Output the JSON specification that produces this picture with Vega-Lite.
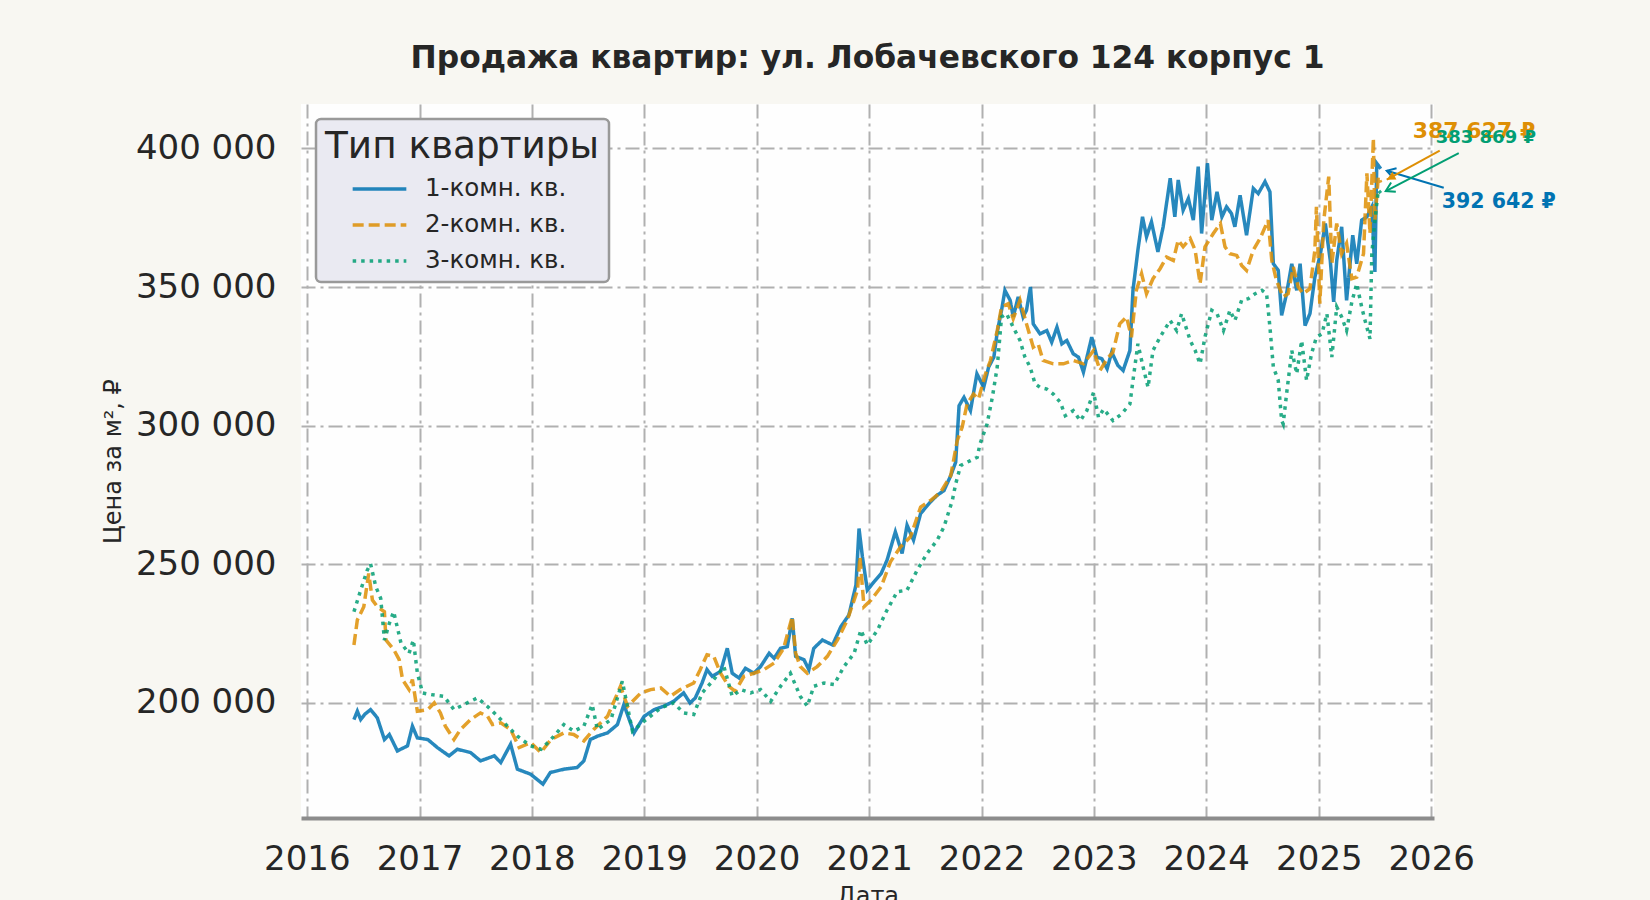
{
  "$schema": "https://vega.github.io/schema/vega-lite/v6.json",
  "width": 1133,
  "height": 714,
  "autosize": {"type": "none"},
  "padding": {"left": 301, "top": 104, "right": 216, "bottom": 82},
  "background": "#f8f7f2",
  "title": {
    "text": "Продажа квартир: ул. Лобачевского 124 корпус 1",
    "fontSize": 31.3,
    "fontWeight": "bold",
    "font": "DejaVu Sans",
    "color": "#262626",
    "anchor": "middle",
    "offset": 30
  },
  "datasets": {
    "main": [
      {"date": "2016-06-02", "type": "1-комн. кв.", "value": 194000},
      {"date": "2016-06-13", "type": "1-комн. кв.", "value": 197000},
      {"date": "2016-06-24", "type": "1-комн. кв.", "value": 194000},
      {"date": "2016-07-08", "type": "1-комн. кв.", "value": 196000},
      {"date": "2016-07-26", "type": "1-комн. кв.", "value": 197600},
      {"date": "2016-08-17", "type": "1-комн. кв.", "value": 194600},
      {"date": "2016-09-09", "type": "1-комн. кв.", "value": 186800},
      {"date": "2016-09-25", "type": "1-комн. кв.", "value": 188600},
      {"date": "2016-10-21", "type": "1-комн. кв.", "value": 182700},
      {"date": "2016-11-23", "type": "1-комн. кв.", "value": 184500},
      {"date": "2016-12-09", "type": "1-комн. кв.", "value": 191600},
      {"date": "2016-12-25", "type": "1-комн. кв.", "value": 187400},
      {"date": "2017-01-28", "type": "1-комн. кв.", "value": 186800},
      {"date": "2017-02-28", "type": "1-комн. кв.", "value": 183900},
      {"date": "2017-04-07", "type": "1-комн. кв.", "value": 180900},
      {"date": "2017-05-04", "type": "1-комн. кв.", "value": 183300},
      {"date": "2017-06-16", "type": "1-комн. кв.", "value": 182100},
      {"date": "2017-07-18", "type": "1-комн. кв.", "value": 179100},
      {"date": "2017-09-01", "type": "1-комн. кв.", "value": 180900},
      {"date": "2017-09-22", "type": "1-комн. кв.", "value": 178500},
      {"date": "2017-10-24", "type": "1-комн. кв.", "value": 185100},
      {"date": "2017-11-15", "type": "1-комн. кв.", "value": 176100},
      {"date": "2017-12-28", "type": "1-комн. кв.", "value": 174300},
      {"date": "2018-02-06", "type": "1-комн. кв.", "value": 170700},
      {"date": "2018-03-02", "type": "1-комн. кв.", "value": 174900},
      {"date": "2018-04-15", "type": "1-комн. кв.", "value": 176100},
      {"date": "2018-05-28", "type": "1-комн. кв.", "value": 176700},
      {"date": "2018-06-19", "type": "1-комн. кв.", "value": 179100},
      {"date": "2018-07-10", "type": "1-комн. кв.", "value": 186800},
      {"date": "2018-08-02", "type": "1-комн. кв.", "value": 188000},
      {"date": "2018-09-04", "type": "1-комн. кв.", "value": 189200},
      {"date": "2018-10-06", "type": "1-комн. кв.", "value": 192200},
      {"date": "2018-10-27", "type": "1-комн. кв.", "value": 199400},
      {"date": "2018-11-29", "type": "1-комн. кв.", "value": 189200},
      {"date": "2019-01-01", "type": "1-комн. кв.", "value": 195200},
      {"date": "2019-02-03", "type": "1-комн. кв.", "value": 197600},
      {"date": "2019-03-05", "type": "1-комн. кв.", "value": 198800},
      {"date": "2019-04-07", "type": "1-комн. кв.", "value": 200600},
      {"date": "2019-05-09", "type": "1-комн. кв.", "value": 203600},
      {"date": "2019-05-30", "type": "1-комн. кв.", "value": 200000},
      {"date": "2019-06-16", "type": "1-комн. кв.", "value": 201800},
      {"date": "2019-07-08", "type": "1-комн. кв.", "value": 207200},
      {"date": "2019-07-24", "type": "1-комн. кв.", "value": 212000},
      {"date": "2019-08-10", "type": "1-комн. кв.", "value": 209600},
      {"date": "2019-09-06", "type": "1-комн. кв.", "value": 211300},
      {"date": "2019-09-28", "type": "1-комн. кв.", "value": 219700},
      {"date": "2019-10-14", "type": "1-комн. кв.", "value": 210700},
      {"date": "2019-11-05", "type": "1-комн. кв.", "value": 209000},
      {"date": "2019-11-26", "type": "1-комн. кв.", "value": 212500},
      {"date": "2019-12-23", "type": "1-комн. кв.", "value": 210700},
      {"date": "2020-01-14", "type": "1-комн. кв.", "value": 213100},
      {"date": "2020-02-11", "type": "1-комн. кв.", "value": 217900},
      {"date": "2020-02-27", "type": "1-комн. кв.", "value": 216100},
      {"date": "2020-03-19", "type": "1-комн. кв.", "value": 219700},
      {"date": "2020-04-10", "type": "1-комн. кв.", "value": 220300},
      {"date": "2020-04-26", "type": "1-комн. кв.", "value": 230500},
      {"date": "2020-05-07", "type": "1-комн. кв.", "value": 216800},
      {"date": "2020-06-03", "type": "1-комн. кв.", "value": 215600},
      {"date": "2020-06-19", "type": "1-комн. кв.", "value": 212000},
      {"date": "2020-07-05", "type": "1-комн. кв.", "value": 219700},
      {"date": "2020-08-02", "type": "1-комн. кв.", "value": 222700},
      {"date": "2020-09-04", "type": "1-комн. кв.", "value": 220900},
      {"date": "2020-10-01", "type": "1-комн. кв.", "value": 227500},
      {"date": "2020-10-27", "type": "1-комн. кв.", "value": 231700},
      {"date": "2020-11-19", "type": "1-комн. кв.", "value": 242500},
      {"date": "2020-11-29", "type": "1-комн. кв.", "value": 262900},
      {"date": "2020-12-10", "type": "1-комн. кв.", "value": 252700},
      {"date": "2020-12-26", "type": "1-комн. кв.", "value": 240700},
      {"date": "2021-01-17", "type": "1-комн. кв.", "value": 243700},
      {"date": "2021-02-09", "type": "1-комн. кв.", "value": 246700},
      {"date": "2021-02-28", "type": "1-комн. кв.", "value": 251500},
      {"date": "2021-03-27", "type": "1-комн. кв.", "value": 261700},
      {"date": "2021-04-18", "type": "1-комн. кв.", "value": 253900},
      {"date": "2021-05-04", "type": "1-комн. кв.", "value": 264100},
      {"date": "2021-05-25", "type": "1-комн. кв.", "value": 258700},
      {"date": "2021-06-17", "type": "1-комн. кв.", "value": 268300},
      {"date": "2021-07-19", "type": "1-комн. кв.", "value": 272500},
      {"date": "2021-08-10", "type": "1-комн. кв.", "value": 274900},
      {"date": "2021-09-01", "type": "1-комн. кв.", "value": 276600},
      {"date": "2021-09-23", "type": "1-комн. кв.", "value": 282000},
      {"date": "2021-10-09", "type": "1-комн. кв.", "value": 286800},
      {"date": "2021-10-20", "type": "1-комн. кв.", "value": 307200},
      {"date": "2021-11-05", "type": "1-комн. кв.", "value": 310200},
      {"date": "2021-11-26", "type": "1-комн. кв.", "value": 305400},
      {"date": "2021-12-17", "type": "1-комн. кв.", "value": 318700},
      {"date": "2022-01-08", "type": "1-комн. кв.", "value": 313800},
      {"date": "2022-01-24", "type": "1-комн. кв.", "value": 321100},
      {"date": "2022-02-10", "type": "1-комн. кв.", "value": 324700},
      {"date": "2022-02-21", "type": "1-комн. кв.", "value": 333700},
      {"date": "2022-03-07", "type": "1-комн. кв.", "value": 341600},
      {"date": "2022-03-18", "type": "1-комн. кв.", "value": 348800},
      {"date": "2022-04-04", "type": "1-комн. кв.", "value": 345200},
      {"date": "2022-04-14", "type": "1-комн. кв.", "value": 339200},
      {"date": "2022-04-30", "type": "1-комн. кв.", "value": 346400},
      {"date": "2022-05-16", "type": "1-комн. кв.", "value": 339200},
      {"date": "2022-05-27", "type": "1-комн. кв.", "value": 341600},
      {"date": "2022-06-09", "type": "1-комн. кв.", "value": 350000},
      {"date": "2022-06-18", "type": "1-комн. кв.", "value": 336700},
      {"date": "2022-07-10", "type": "1-комн. кв.", "value": 333100},
      {"date": "2022-08-01", "type": "1-комн. кв.", "value": 334300},
      {"date": "2022-08-17", "type": "1-комн. кв.", "value": 330100},
      {"date": "2022-09-03", "type": "1-комн. кв.", "value": 335500},
      {"date": "2022-09-19", "type": "1-комн. кв.", "value": 329500},
      {"date": "2022-10-05", "type": "1-комн. кв.", "value": 330700},
      {"date": "2022-10-26", "type": "1-комн. кв.", "value": 325900},
      {"date": "2022-11-12", "type": "1-комн. кв.", "value": 324700},
      {"date": "2022-11-28", "type": "1-комн. кв.", "value": 319300},
      {"date": "2022-12-25", "type": "1-комн. кв.", "value": 331900},
      {"date": "2023-01-11", "type": "1-комн. кв.", "value": 324700},
      {"date": "2023-01-27", "type": "1-комн. кв.", "value": 324100},
      {"date": "2023-02-13", "type": "1-комн. кв.", "value": 320500},
      {"date": "2023-02-28", "type": "1-комн. кв.", "value": 326500},
      {"date": "2023-03-20", "type": "1-комн. кв.", "value": 321700},
      {"date": "2023-04-06", "type": "1-комн. кв.", "value": 319900},
      {"date": "2023-04-28", "type": "1-комн. кв.", "value": 327100},
      {"date": "2023-05-08", "type": "1-комн. кв.", "value": 348800},
      {"date": "2023-05-24", "type": "1-комн. кв.", "value": 363300},
      {"date": "2023-06-08", "type": "1-комн. кв.", "value": 375300},
      {"date": "2023-06-21", "type": "1-комн. кв.", "value": 368100},
      {"date": "2023-07-07", "type": "1-комн. кв.", "value": 373500},
      {"date": "2023-07-28", "type": "1-комн. кв.", "value": 362700},
      {"date": "2023-08-14", "type": "1-комн. кв.", "value": 371700},
      {"date": "2023-09-06", "type": "1-комн. кв.", "value": 389200},
      {"date": "2023-09-21", "type": "1-комн. кв.", "value": 375300},
      {"date": "2023-10-02", "type": "1-комн. кв.", "value": 388600},
      {"date": "2023-10-18", "type": "1-комн. кв.", "value": 377700},
      {"date": "2023-11-04", "type": "1-комн. кв.", "value": 381900},
      {"date": "2023-11-20", "type": "1-комн. кв.", "value": 374100},
      {"date": "2023-12-06", "type": "1-комн. кв.", "value": 393400},
      {"date": "2023-12-17", "type": "1-комн. кв.", "value": 369300},
      {"date": "2024-01-05", "type": "1-комн. кв.", "value": 394600},
      {"date": "2024-01-19", "type": "1-комн. кв.", "value": 374100},
      {"date": "2024-02-05", "type": "1-комн. кв.", "value": 384300},
      {"date": "2024-02-21", "type": "1-комн. кв.", "value": 375300},
      {"date": "2024-03-07", "type": "1-комн. кв.", "value": 378900},
      {"date": "2024-03-23", "type": "1-комн. кв.", "value": 376500},
      {"date": "2024-04-03", "type": "1-комн. кв.", "value": 371700},
      {"date": "2024-04-20", "type": "1-комн. кв.", "value": 383100},
      {"date": "2024-05-11", "type": "1-комн. кв.", "value": 368700},
      {"date": "2024-06-02", "type": "1-комн. кв.", "value": 385500},
      {"date": "2024-06-18", "type": "1-комн. кв.", "value": 383700},
      {"date": "2024-07-10", "type": "1-комн. кв.", "value": 388000},
      {"date": "2024-07-26", "type": "1-комн. кв.", "value": 384300},
      {"date": "2024-08-06", "type": "1-комн. кв.", "value": 358400},
      {"date": "2024-08-22", "type": "1-комн. кв.", "value": 356000},
      {"date": "2024-09-02", "type": "1-комн. кв.", "value": 339800},
      {"date": "2024-09-18", "type": "1-комн. кв.", "value": 347600},
      {"date": "2024-10-05", "type": "1-комн. кв.", "value": 358400},
      {"date": "2024-10-21", "type": "1-комн. кв.", "value": 348800},
      {"date": "2024-11-01", "type": "1-комн. кв.", "value": 358400},
      {"date": "2024-11-17", "type": "1-комн. кв.", "value": 336100},
      {"date": "2024-12-03", "type": "1-комн. кв.", "value": 340400},
      {"date": "2024-12-19", "type": "1-комн. кв.", "value": 353600},
      {"date": "2025-01-06", "type": "1-комн. кв.", "value": 362000},
      {"date": "2025-01-22", "type": "1-комн. кв.", "value": 372900},
      {"date": "2025-02-07", "type": "1-комн. кв.", "value": 359600},
      {"date": "2025-02-18", "type": "1-комн. кв.", "value": 344600},
      {"date": "2025-02-28", "type": "1-комн. кв.", "value": 359600},
      {"date": "2025-03-16", "type": "1-комн. кв.", "value": 371700},
      {"date": "2025-04-01", "type": "1-комн. кв.", "value": 345200},
      {"date": "2025-04-21", "type": "1-комн. кв.", "value": 368700},
      {"date": "2025-05-04", "type": "1-комн. кв.", "value": 358400},
      {"date": "2025-05-20", "type": "1-комн. кв.", "value": 374100},
      {"date": "2025-06-06", "type": "1-комн. кв.", "value": 375300},
      {"date": "2025-06-22", "type": "1-комн. кв.", "value": 378900},
      {"date": "2025-07-02", "type": "1-комн. кв.", "value": 355400},
      {"date": "2025-07-08", "type": "1-комн. кв.", "value": 394600},
      {"date": "2025-07-21", "type": "1-комн. кв.", "value": 392642},

      {"date": "2016-06-02", "type": "2-комн. кв.", "value": 220900},
      {"date": "2016-06-13", "type": "2-комн. кв.", "value": 229900},
      {"date": "2016-07-04", "type": "2-комн. кв.", "value": 234700},
      {"date": "2016-07-20", "type": "2-комн. кв.", "value": 246700},
      {"date": "2016-08-01", "type": "2-комн. кв.", "value": 237100},
      {"date": "2016-08-17", "type": "2-комн. кв.", "value": 234700},
      {"date": "2016-09-09", "type": "2-комн. кв.", "value": 232900},
      {"date": "2016-09-14", "type": "2-комн. кв.", "value": 222700},
      {"date": "2016-10-10", "type": "2-комн. кв.", "value": 219100},
      {"date": "2016-10-27", "type": "2-комн. кв.", "value": 215600},
      {"date": "2016-11-07", "type": "2-комн. кв.", "value": 208400},
      {"date": "2016-11-28", "type": "2-комн. кв.", "value": 204800},
      {"date": "2016-12-09", "type": "2-комн. кв.", "value": 208400},
      {"date": "2016-12-25", "type": "2-комн. кв.", "value": 197000},
      {"date": "2017-01-28", "type": "2-комн. кв.", "value": 197600},
      {"date": "2017-02-18", "type": "2-комн. кв.", "value": 200000},
      {"date": "2017-03-10", "type": "2-комн. кв.", "value": 196400},
      {"date": "2017-03-26", "type": "2-комн. кв.", "value": 191600},
      {"date": "2017-04-23", "type": "2-комн. кв.", "value": 186800},
      {"date": "2017-05-14", "type": "2-комн. кв.", "value": 190400},
      {"date": "2017-06-16", "type": "2-комн. кв.", "value": 194000},
      {"date": "2017-07-18", "type": "2-комн. кв.", "value": 196400},
      {"date": "2017-08-10", "type": "2-комн. кв.", "value": 195200},
      {"date": "2017-08-26", "type": "2-комн. кв.", "value": 192200},
      {"date": "2017-09-22", "type": "2-комн. кв.", "value": 192800},
      {"date": "2017-10-24", "type": "2-комн. кв.", "value": 190400},
      {"date": "2017-11-21", "type": "2-комн. кв.", "value": 183900},
      {"date": "2017-12-28", "type": "2-комн. кв.", "value": 185700},
      {"date": "2018-01-30", "type": "2-комн. кв.", "value": 182100},
      {"date": "2018-03-04", "type": "2-комн. кв.", "value": 186800},
      {"date": "2018-04-15", "type": "2-комн. кв.", "value": 189200},
      {"date": "2018-05-17", "type": "2-комн. кв.", "value": 188600},
      {"date": "2018-06-19", "type": "2-комн. кв.", "value": 186300},
      {"date": "2018-07-21", "type": "2-комн. кв.", "value": 190400},
      {"date": "2018-09-04", "type": "2-комн. кв.", "value": 195200},
      {"date": "2018-10-16", "type": "2-комн. кв.", "value": 206000},
      {"date": "2018-11-08", "type": "2-комн. кв.", "value": 198800},
      {"date": "2018-12-21", "type": "2-комн. кв.", "value": 203600},
      {"date": "2019-01-22", "type": "2-комн. кв.", "value": 204800},
      {"date": "2019-02-24", "type": "2-комн. кв.", "value": 205400},
      {"date": "2019-03-27", "type": "2-комн. кв.", "value": 202400},
      {"date": "2019-04-28", "type": "2-комн. кв.", "value": 204800},
      {"date": "2019-06-11", "type": "2-комн. кв.", "value": 207200},
      {"date": "2019-07-02", "type": "2-комн. кв.", "value": 212000},
      {"date": "2019-07-24", "type": "2-комн. кв.", "value": 217400},
      {"date": "2019-08-15", "type": "2-комн. кв.", "value": 216800},
      {"date": "2019-09-06", "type": "2-комн. кв.", "value": 210700},
      {"date": "2019-10-03", "type": "2-комн. кв.", "value": 206000},
      {"date": "2019-10-24", "type": "2-комн. кв.", "value": 204200},
      {"date": "2019-11-21", "type": "2-комн. кв.", "value": 209600},
      {"date": "2019-12-23", "type": "2-комн. кв.", "value": 210700},
      {"date": "2020-01-25", "type": "2-комн. кв.", "value": 212000},
      {"date": "2020-02-27", "type": "2-комн. кв.", "value": 214400},
      {"date": "2020-03-29", "type": "2-комн. кв.", "value": 219700},
      {"date": "2020-04-26", "type": "2-комн. кв.", "value": 231100},
      {"date": "2020-05-07", "type": "2-комн. кв.", "value": 218000},
      {"date": "2020-05-22", "type": "2-комн. кв.", "value": 213100},
      {"date": "2020-06-14", "type": "2-комн. кв.", "value": 210700},
      {"date": "2020-07-16", "type": "2-комн. кв.", "value": 213100},
      {"date": "2020-08-18", "type": "2-комн. кв.", "value": 216800},
      {"date": "2020-09-20", "type": "2-комн. кв.", "value": 222700},
      {"date": "2020-10-22", "type": "2-комн. кв.", "value": 229900},
      {"date": "2020-11-24", "type": "2-комн. кв.", "value": 240700},
      {"date": "2020-12-02", "type": "2-комн. кв.", "value": 252700},
      {"date": "2020-12-15", "type": "2-комн. кв.", "value": 234700},
      {"date": "2021-01-07", "type": "2-комн. кв.", "value": 237100},
      {"date": "2021-02-09", "type": "2-комн. кв.", "value": 241900},
      {"date": "2021-03-11", "type": "2-комн. кв.", "value": 250900},
      {"date": "2021-04-13", "type": "2-комн. кв.", "value": 256300},
      {"date": "2021-05-15", "type": "2-комн. кв.", "value": 259900},
      {"date": "2021-06-17", "type": "2-комн. кв.", "value": 270600},
      {"date": "2021-07-19", "type": "2-комн. кв.", "value": 273000},
      {"date": "2021-08-21", "type": "2-комн. кв.", "value": 276000},
      {"date": "2021-09-23", "type": "2-комн. кв.", "value": 282000},
      {"date": "2021-10-14", "type": "2-комн. кв.", "value": 294600},
      {"date": "2021-10-30", "type": "2-комн. кв.", "value": 299400},
      {"date": "2021-11-15", "type": "2-комн. кв.", "value": 307800},
      {"date": "2021-12-06", "type": "2-комн. кв.", "value": 311400},
      {"date": "2021-12-22", "type": "2-комн. кв.", "value": 309600},
      {"date": "2022-01-14", "type": "2-комн. кв.", "value": 318700},
      {"date": "2022-01-30", "type": "2-комн. кв.", "value": 323500},
      {"date": "2022-02-21", "type": "2-комн. кв.", "value": 334300},
      {"date": "2022-03-07", "type": "2-комн. кв.", "value": 342800},
      {"date": "2022-03-29", "type": "2-комн. кв.", "value": 344000},
      {"date": "2022-04-14", "type": "2-комн. кв.", "value": 338600},
      {"date": "2022-05-06", "type": "2-комн. кв.", "value": 345200},
      {"date": "2022-05-27", "type": "2-комн. кв.", "value": 336700},
      {"date": "2022-06-18", "type": "2-комн. кв.", "value": 328300},
      {"date": "2022-07-04", "type": "2-комн. кв.", "value": 329500},
      {"date": "2022-07-20", "type": "2-комн. кв.", "value": 323500},
      {"date": "2022-08-22", "type": "2-комн. кв.", "value": 322300},
      {"date": "2022-09-24", "type": "2-комн. кв.", "value": 322300},
      {"date": "2022-10-26", "type": "2-комн. кв.", "value": 323500},
      {"date": "2022-11-28", "type": "2-комн. кв.", "value": 322300},
      {"date": "2022-12-31", "type": "2-комн. кв.", "value": 327100},
      {"date": "2023-01-21", "type": "2-комн. кв.", "value": 319900},
      {"date": "2023-02-13", "type": "2-комн. кв.", "value": 324100},
      {"date": "2023-03-04", "type": "2-комн. кв.", "value": 326500},
      {"date": "2023-03-26", "type": "2-комн. кв.", "value": 336700},
      {"date": "2023-04-17", "type": "2-комн. кв.", "value": 339200},
      {"date": "2023-05-03", "type": "2-комн. кв.", "value": 331900},
      {"date": "2023-05-19", "type": "2-комн. кв.", "value": 348800},
      {"date": "2023-06-05", "type": "2-комн. кв.", "value": 354800},
      {"date": "2023-06-21", "type": "2-комн. кв.", "value": 347600},
      {"date": "2023-07-12", "type": "2-комн. кв.", "value": 353000},
      {"date": "2023-08-04", "type": "2-комн. кв.", "value": 356600},
      {"date": "2023-08-25", "type": "2-комн. кв.", "value": 360800},
      {"date": "2023-09-16", "type": "2-комн. кв.", "value": 359600},
      {"date": "2023-10-02", "type": "2-комн. кв.", "value": 366900},
      {"date": "2023-10-18", "type": "2-комн. кв.", "value": 364500},
      {"date": "2023-11-10", "type": "2-комн. кв.", "value": 367500},
      {"date": "2023-11-26", "type": "2-комн. кв.", "value": 363300},
      {"date": "2023-12-12", "type": "2-комн. кв.", "value": 351200},
      {"date": "2023-12-28", "type": "2-комн. кв.", "value": 364500},
      {"date": "2024-01-14", "type": "2-комн. кв.", "value": 367500},
      {"date": "2024-01-24", "type": "2-комн. кв.", "value": 369300},
      {"date": "2024-02-16", "type": "2-комн. кв.", "value": 372900},
      {"date": "2024-03-02", "type": "2-комн. кв.", "value": 364500},
      {"date": "2024-03-18", "type": "2-комн. кв.", "value": 362000},
      {"date": "2024-04-09", "type": "2-комн. кв.", "value": 361400},
      {"date": "2024-04-25", "type": "2-комн. кв.", "value": 357800},
      {"date": "2024-05-11", "type": "2-комн. кв.", "value": 356000},
      {"date": "2024-06-02", "type": "2-комн. кв.", "value": 363300},
      {"date": "2024-06-24", "type": "2-комн. кв.", "value": 367500},
      {"date": "2024-07-20", "type": "2-комн. кв.", "value": 374100},
      {"date": "2024-08-01", "type": "2-комн. кв.", "value": 359600},
      {"date": "2024-08-16", "type": "2-комн. кв.", "value": 352400},
      {"date": "2024-09-07", "type": "2-комн. кв.", "value": 346400},
      {"date": "2024-09-23", "type": "2-комн. кв.", "value": 347600},
      {"date": "2024-10-10", "type": "2-комн. кв.", "value": 357200},
      {"date": "2024-10-26", "type": "2-комн. кв.", "value": 350000},
      {"date": "2024-11-11", "type": "2-комн. кв.", "value": 347600},
      {"date": "2024-12-03", "type": "2-комн. кв.", "value": 349400},
      {"date": "2024-12-19", "type": "2-комн. кв.", "value": 363300},
      {"date": "2024-12-24", "type": "2-комн. кв.", "value": 378900},
      {"date": "2025-01-04", "type": "2-комн. кв.", "value": 344000},
      {"date": "2025-01-17", "type": "2-комн. кв.", "value": 374100},
      {"date": "2025-02-02", "type": "2-комн. кв.", "value": 389800},
      {"date": "2025-02-12", "type": "2-комн. кв.", "value": 358400},
      {"date": "2025-02-28", "type": "2-комн. кв.", "value": 372900},
      {"date": "2025-03-16", "type": "2-комн. кв.", "value": 362000},
      {"date": "2025-04-01", "type": "2-комн. кв.", "value": 365700},
      {"date": "2025-04-18", "type": "2-комн. кв.", "value": 353000},
      {"date": "2025-05-04", "type": "2-комн. кв.", "value": 353600},
      {"date": "2025-05-26", "type": "2-комн. кв.", "value": 362000},
      {"date": "2025-06-06", "type": "2-комн. кв.", "value": 391000},
      {"date": "2025-06-16", "type": "2-комн. кв.", "value": 369300},
      {"date": "2025-06-27", "type": "2-комн. кв.", "value": 403600},
      {"date": "2025-07-02", "type": "2-комн. кв.", "value": 374100},
      {"date": "2025-07-13", "type": "2-комн. кв.", "value": 389800},
      {"date": "2025-07-21", "type": "2-комн. кв.", "value": 387627},

      {"date": "2016-06-02", "type": "3-комн. кв.", "value": 232900},
      {"date": "2016-06-24", "type": "3-комн. кв.", "value": 240700},
      {"date": "2016-07-15", "type": "3-комн. кв.", "value": 247800},
      {"date": "2016-07-26", "type": "3-комн. кв.", "value": 250200},
      {"date": "2016-08-12", "type": "3-комн. кв.", "value": 241900},
      {"date": "2016-08-28", "type": "3-комн. кв.", "value": 237700},
      {"date": "2016-09-09", "type": "3-комн. кв.", "value": 222700},
      {"date": "2016-09-25", "type": "3-комн. кв.", "value": 228700},
      {"date": "2016-10-09", "type": "3-комн. кв.", "value": 232900},
      {"date": "2016-11-02", "type": "3-комн. кв.", "value": 221500},
      {"date": "2016-11-28", "type": "3-комн. кв.", "value": 217900},
      {"date": "2016-12-12", "type": "3-комн. кв.", "value": 222700},
      {"date": "2016-12-25", "type": "3-комн. кв.", "value": 210800},
      {"date": "2017-01-11", "type": "3-комн. кв.", "value": 203600},
      {"date": "2017-02-08", "type": "3-комн. кв.", "value": 203000},
      {"date": "2017-03-21", "type": "3-комн. кв.", "value": 202400},
      {"date": "2017-04-23", "type": "3-комн. кв.", "value": 197600},
      {"date": "2017-05-25", "type": "3-комн. кв.", "value": 199400},
      {"date": "2017-07-08", "type": "3-комн. кв.", "value": 201800},
      {"date": "2017-08-09", "type": "3-комн. кв.", "value": 198800},
      {"date": "2017-09-01", "type": "3-комн. кв.", "value": 196400},
      {"date": "2017-10-14", "type": "3-комн. кв.", "value": 191600},
      {"date": "2017-11-15", "type": "3-комн. кв.", "value": 188000},
      {"date": "2017-12-28", "type": "3-комн. кв.", "value": 184500},
      {"date": "2018-01-31", "type": "3-комн. кв.", "value": 183300},
      {"date": "2018-03-04", "type": "3-комн. кв.", "value": 186800},
      {"date": "2018-04-15", "type": "3-комн. кв.", "value": 192200},
      {"date": "2018-05-18", "type": "3-комн. кв.", "value": 189800},
      {"date": "2018-06-19", "type": "3-комн. кв.", "value": 191600},
      {"date": "2018-07-16", "type": "3-комн. кв.", "value": 199400},
      {"date": "2018-08-02", "type": "3-комн. кв.", "value": 190400},
      {"date": "2018-09-15", "type": "3-комн. кв.", "value": 194000},
      {"date": "2018-10-22", "type": "3-комн. кв.", "value": 207800},
      {"date": "2018-11-24", "type": "3-комн. кв.", "value": 189800},
      {"date": "2019-01-01", "type": "3-комн. кв.", "value": 193400},
      {"date": "2019-02-24", "type": "3-комн. кв.", "value": 198200},
      {"date": "2019-04-07", "type": "3-комн. кв.", "value": 200000},
      {"date": "2019-05-09", "type": "3-комн. кв.", "value": 196400},
      {"date": "2019-06-11", "type": "3-комн. кв.", "value": 195800},
      {"date": "2019-07-08", "type": "3-комн. кв.", "value": 203600},
      {"date": "2019-08-15", "type": "3-комн. кв.", "value": 208400},
      {"date": "2019-09-17", "type": "3-комн. кв.", "value": 213100},
      {"date": "2019-10-14", "type": "3-комн. кв.", "value": 202400},
      {"date": "2019-11-11", "type": "3-комн. кв.", "value": 204800},
      {"date": "2019-12-13", "type": "3-комн. кв.", "value": 203600},
      {"date": "2020-01-14", "type": "3-комн. кв.", "value": 204800},
      {"date": "2020-02-16", "type": "3-комн. кв.", "value": 200600},
      {"date": "2020-03-19", "type": "3-комн. кв.", "value": 206000},
      {"date": "2020-04-20", "type": "3-комн. кв.", "value": 210700},
      {"date": "2020-05-22", "type": "3-комн. кв.", "value": 202400},
      {"date": "2020-06-14", "type": "3-комн. кв.", "value": 198800},
      {"date": "2020-07-05", "type": "3-комн. кв.", "value": 206000},
      {"date": "2020-08-07", "type": "3-комн. кв.", "value": 207200},
      {"date": "2020-09-09", "type": "3-комн. кв.", "value": 206600},
      {"date": "2020-10-11", "type": "3-комн. кв.", "value": 213100},
      {"date": "2020-11-13", "type": "3-комн. кв.", "value": 217900},
      {"date": "2020-12-05", "type": "3-комн. кв.", "value": 226300},
      {"date": "2020-12-26", "type": "3-комн. кв.", "value": 220900},
      {"date": "2021-01-28", "type": "3-комн. кв.", "value": 226300},
      {"date": "2021-02-28", "type": "3-комн. кв.", "value": 233500},
      {"date": "2021-04-02", "type": "3-комн. кв.", "value": 240100},
      {"date": "2021-05-04", "type": "3-комн. кв.", "value": 240700},
      {"date": "2021-06-06", "type": "3-комн. кв.", "value": 247900},
      {"date": "2021-07-08", "type": "3-комн. кв.", "value": 253900},
      {"date": "2021-08-10", "type": "3-комн. кв.", "value": 258700},
      {"date": "2021-09-01", "type": "3-комн. кв.", "value": 263500},
      {"date": "2021-09-28", "type": "3-комн. кв.", "value": 273000},
      {"date": "2021-10-09", "type": "3-комн. кв.", "value": 279000},
      {"date": "2021-10-25", "type": "3-комн. кв.", "value": 285600},
      {"date": "2021-11-26", "type": "3-комн. кв.", "value": 287400},
      {"date": "2021-12-18", "type": "3-комн. кв.", "value": 288600},
      {"date": "2021-12-27", "type": "3-комн. кв.", "value": 293400},
      {"date": "2022-01-19", "type": "3-комн. кв.", "value": 300600},
      {"date": "2022-02-05", "type": "3-комн. кв.", "value": 310200},
      {"date": "2022-02-21", "type": "3-комн. кв.", "value": 321100},
      {"date": "2022-03-07", "type": "3-комн. кв.", "value": 339200},
      {"date": "2022-03-23", "type": "3-комн. кв.", "value": 340400},
      {"date": "2022-04-14", "type": "3-комн. кв.", "value": 335500},
      {"date": "2022-05-06", "type": "3-комн. кв.", "value": 330700},
      {"date": "2022-05-22", "type": "3-комн. кв.", "value": 324700},
      {"date": "2022-06-08", "type": "3-комн. кв.", "value": 321100},
      {"date": "2022-06-24", "type": "3-комн. кв.", "value": 315100},
      {"date": "2022-07-10", "type": "3-комн. кв.", "value": 313800},
      {"date": "2022-08-01", "type": "3-комн. кв.", "value": 313200},
      {"date": "2022-08-22", "type": "3-комн. кв.", "value": 311400},
      {"date": "2022-09-14", "type": "3-комн. кв.", "value": 308400},
      {"date": "2022-09-30", "type": "3-комн. кв.", "value": 303600},
      {"date": "2022-10-26", "type": "3-комн. кв.", "value": 305400},
      {"date": "2022-11-18", "type": "3-комн. кв.", "value": 301800},
      {"date": "2022-12-09", "type": "3-комн. кв.", "value": 305400},
      {"date": "2022-12-31", "type": "3-комн. кв.", "value": 312000},
      {"date": "2023-01-16", "type": "3-комн. кв.", "value": 303000},
      {"date": "2023-02-02", "type": "3-комн. кв.", "value": 306000},
      {"date": "2023-03-04", "type": "3-комн. кв.", "value": 301800},
      {"date": "2023-04-01", "type": "3-комн. кв.", "value": 304200},
      {"date": "2023-04-28", "type": "3-комн. кв.", "value": 307800},
      {"date": "2023-05-08", "type": "3-комн. кв.", "value": 316300},
      {"date": "2023-05-24", "type": "3-комн. кв.", "value": 329500},
      {"date": "2023-06-10", "type": "3-комн. кв.", "value": 321100},
      {"date": "2023-06-26", "type": "3-комн. кв.", "value": 313800},
      {"date": "2023-07-12", "type": "3-комн. кв.", "value": 327100},
      {"date": "2023-08-04", "type": "3-комн. кв.", "value": 331900},
      {"date": "2023-09-06", "type": "3-комн. кв.", "value": 337900},
      {"date": "2023-09-27", "type": "3-комн. кв.", "value": 334300},
      {"date": "2023-10-13", "type": "3-комн. кв.", "value": 340400},
      {"date": "2023-11-10", "type": "3-комн. кв.", "value": 330700},
      {"date": "2023-11-26", "type": "3-комн. кв.", "value": 327100},
      {"date": "2023-12-12", "type": "3-комн. кв.", "value": 322300},
      {"date": "2023-12-28", "type": "3-комн. кв.", "value": 332000},
      {"date": "2024-01-19", "type": "3-комн. кв.", "value": 341600},
      {"date": "2024-02-05", "type": "3-комн. кв.", "value": 340400},
      {"date": "2024-02-26", "type": "3-комн. кв.", "value": 334300},
      {"date": "2024-03-18", "type": "3-комн. кв.", "value": 341600},
      {"date": "2024-04-03", "type": "3-комн. кв.", "value": 337900},
      {"date": "2024-04-25", "type": "3-комн. кв.", "value": 345200},
      {"date": "2024-05-17", "type": "3-комн. кв.", "value": 345800},
      {"date": "2024-06-08", "type": "3-комн. кв.", "value": 347600},
      {"date": "2024-06-30", "type": "3-комн. кв.", "value": 348800},
      {"date": "2024-07-15", "type": "3-комн. кв.", "value": 347600},
      {"date": "2024-07-26", "type": "3-комн. кв.", "value": 335500},
      {"date": "2024-08-06", "type": "3-комн. кв.", "value": 321100},
      {"date": "2024-08-22", "type": "3-комн. кв.", "value": 316300},
      {"date": "2024-09-02", "type": "3-комн. кв.", "value": 301800},
      {"date": "2024-09-07", "type": "3-комн. кв.", "value": 300600},
      {"date": "2024-09-18", "type": "3-комн. кв.", "value": 311400},
      {"date": "2024-10-05", "type": "3-комн. кв.", "value": 327100},
      {"date": "2024-10-21", "type": "3-комн. кв.", "value": 318700},
      {"date": "2024-11-06", "type": "3-комн. кв.", "value": 330700},
      {"date": "2024-11-22", "type": "3-комн. кв.", "value": 316300},
      {"date": "2024-12-08", "type": "3-комн. кв.", "value": 325900},
      {"date": "2024-12-24", "type": "3-комн. кв.", "value": 331900},
      {"date": "2025-01-11", "type": "3-комн. кв.", "value": 333100},
      {"date": "2025-01-27", "type": "3-комн. кв.", "value": 340400},
      {"date": "2025-02-12", "type": "3-комн. кв.", "value": 324700},
      {"date": "2025-02-28", "type": "3-комн. кв.", "value": 342800},
      {"date": "2025-03-16", "type": "3-комн. кв.", "value": 339200},
      {"date": "2025-04-01", "type": "3-комн. кв.", "value": 334300},
      {"date": "2025-04-18", "type": "3-комн. кв.", "value": 344600},
      {"date": "2025-05-04", "type": "3-комн. кв.", "value": 351200},
      {"date": "2025-05-20", "type": "3-комн. кв.", "value": 342800},
      {"date": "2025-05-31", "type": "3-комн. кв.", "value": 337900},
      {"date": "2025-06-16", "type": "3-комн. кв.", "value": 331300},
      {"date": "2025-06-22", "type": "3-комн. кв.", "value": 362000},
      {"date": "2025-07-02", "type": "3-комн. кв.", "value": 374100},
      {"date": "2025-07-13", "type": "3-комн. кв.", "value": 384900},
      {"date": "2025-07-21", "type": "3-комн. кв.", "value": 383869}
    ],
    "ann": [
      {"date": "2025-07-21", "type": "1-комн. кв.", "value": 392642, "label": "392 642 ₽"},
      {"date": "2025-07-21", "type": "2-комн. кв.", "value": 387627, "label": "387 627 ₽"},
      {"date": "2025-07-21", "type": "3-комн. кв.", "value": 383869, "label": "383 869 ₽"}
    ]
  },
  "encoding": {
    "x": {
      "field": "date",
      "type": "temporal",
      "scale": {"domain": [{"year": 2015, "month": 12, "date": 13}, {"year": 2026, "month": 1, "date": 10}]},
      "axis": {
        "title": "Дата",
        "format": "%Y",
        "values": [{"year": 2016}, {"year": 2017}, {"year": 2018}, {"year": 2019}, {"year": 2020}, {"year": 2021}, {"year": 2022}, {"year": 2023}, {"year": 2024}, {"year": 2025}, {"year": 2026}],
        "domain": true,
        "domainColor": "#8c8c8c",
        "domainWidth": 4,
        "ticks": false,
        "labelPadding": 24,
        "titlePadding": 8
      }
    },
    "y": {
      "field": "value",
      "type": "quantitative",
      "scale": {"domain": [158500, 416000], "nice": false, "zero": false},
      "axis": {
        "title": "Цена за м², ₽",
        "values": [200000, 250000, 300000, 350000, 400000],
        "labelExpr": "format(datum.value / 1000, 'd') + ' 000'",
        "domain": false,
        "ticks": false,
        "labelPadding": 25,
        "titlePadding": 10
      }
    }
  },
  "layer": [
    {
      "data": {"name": "main"},
      "mark": {"type": "line", "strokeWidth": 3.5, "opacity": 0.85, "strokeCap": "butt"},
      "encoding": {
        "color": {
          "field": "type",
          "type": "nominal",
          "scale": {"domain": ["1-комн. кв.", "2-комн. кв.", "3-комн. кв."], "range": ["#0173b2", "#de8f05", "#029e73"]},
          "legend": {
            "title": "Тип квартиры",
            "orient": "none",
            "legendX": 15,
            "legendY": 15
          }
        },
        "strokeDash": {
          "field": "type",
          "type": "nominal",
          "scale": {"domain": ["1-комн. кв.", "2-комн. кв.", "3-комн. кв."], "range": [[1, 0], [11, 5], [3.5, 5]]},
          "legend": {
            "title": "Тип квартиры",
            "orient": "none",
            "legendX": 15,
            "legendY": 15
          }
        }
      }
    },
    {
      "data": {"name": "ann"},
      "transform": [{"filter": "datum.type == '1-комн. кв.'"}],
      "mark": {"type": "rule", "color": "#0173b2", "strokeWidth": 2, "xOffset": 6, "yOffset": 2, "x2Offset": 63, "y2Offset": 19},
      "encoding": {"x2": {"field": "date"}, "y2": {"field": "value"}}
    },
    {
      "data": {"name": "ann"},
      "transform": [{"filter": "datum.type == '1-комн. кв.'"}],
      "mark": {"type": "point", "shape": "M 1 -0.6 L 0 0 L 1 0.6", "filled": false, "stroke": "#0173b2", "strokeWidth": 2, "size": 300, "angle": 17, "xOffset": 6, "yOffset": 2, "opacity": 1}
    },
    {
      "data": {"name": "ann"},
      "transform": [{"filter": "datum.type == '1-комн. кв.'"}],
      "mark": {"type": "text", "color": "#0173b2", "fontWeight": "bold", "fontSize": 20.5, "font": "DejaVu Sans", "align": "left", "baseline": "middle", "dx": 61, "dy": 33},
      "encoding": {"text": {"field": "label"}}
    },
    {
      "data": {"name": "ann"},
      "transform": [{"filter": "datum.type == '2-комн. кв.'"}],
      "mark": {"type": "rule", "color": "#de8f05", "strokeWidth": 2, "xOffset": 6, "yOffset": -3, "x2Offset": 59, "y2Offset": -32},
      "encoding": {"x2": {"field": "date"}, "y2": {"field": "value"}}
    },
    {
      "data": {"name": "ann"},
      "transform": [{"filter": "datum.type == '2-комн. кв.'"}],
      "mark": {"type": "point", "shape": "M 0 0 L 1 -0.5 L 1 0.5 Z", "filled": true, "fill": "#de8f05", "size": 300, "angle": -28, "xOffset": 6, "yOffset": -3, "opacity": 1}
    },
    {
      "data": {"name": "ann"},
      "transform": [{"filter": "datum.type == '2-комн. кв.'"}],
      "mark": {"type": "text", "color": "#de8f05", "fontWeight": "bold", "fontSize": 22, "font": "DejaVu Sans", "align": "left", "baseline": "middle", "dx": 32, "dy": -52},
      "encoding": {"text": {"field": "label"}}
    },
    {
      "data": {"name": "ann"},
      "transform": [{"filter": "datum.type == '3-комн. кв.'"}],
      "mark": {"type": "rule", "color": "#029e73", "strokeWidth": 2, "xOffset": 5, "yOffset": -2, "x2Offset": 78, "y2Offset": -40},
      "encoding": {"x2": {"field": "date"}, "y2": {"field": "value"}}
    },
    {
      "data": {"name": "ann"},
      "transform": [{"filter": "datum.type == '3-комн. кв.'"}],
      "mark": {"type": "point", "shape": "M 1 -0.6 L 0 0 L 1 0.6", "filled": false, "stroke": "#029e73", "strokeWidth": 2, "size": 300, "angle": -27, "xOffset": 5, "yOffset": -2, "opacity": 1}
    },
    {
      "data": {"name": "ann"},
      "transform": [{"filter": "datum.type == '3-комн. кв.'"}],
      "mark": {"type": "text", "color": "#029e73", "fontWeight": "bold", "fontSize": 18, "font": "DejaVu Sans", "align": "left", "baseline": "middle", "dx": 55, "dy": -55},
      "encoding": {"text": {"field": "label"}}
    }
  ],
  "config": {
    "font": "DejaVu Sans",
    "view": {"fill": "#fefefe", "stroke": null},
    "axis": {
      "grid": true,
      "gridColor": "#b0b0b0",
      "gridWidth": 2,
      "gridDash": [14, 5, 3, 5],
      "labelFontSize": 34,
      "labelColor": "#262626",
      "labelFont": "DejaVu Sans",
      "titleFontSize": 24,
      "titleFontWeight": "normal",
      "titleColor": "#262626",
      "titleFont": "DejaVu Sans"
    },
    "legend": {
      "fillColor": "#eaeaf2",
      "strokeColor": "#999999",
      "strokeWidth": 2.5,
      "cornerRadius": 5,
      "padding": 9,
      "titleFontSize": 37.4,
      "titleFontWeight": "normal",
      "titleColor": "#262626",
      "titleFont": "DejaVu Sans",
      "titleLimit": 500,
      "titlePadding": -1,
      "labelFontSize": 24.5,
      "labelColor": "#262626",
      "labelFont": "DejaVu Sans",
      "labelLimit": 400,
      "symbolType": "M -1.2 0 L 1.2 0",
      "symbolFillColor": "transparent",
      "symbolSize": 2000,
      "symbolStrokeWidth": 3.5,
      "symbolOffset": 30,
      "labelOffset": 21,
      "rowPadding": 0
    }
  }
}
